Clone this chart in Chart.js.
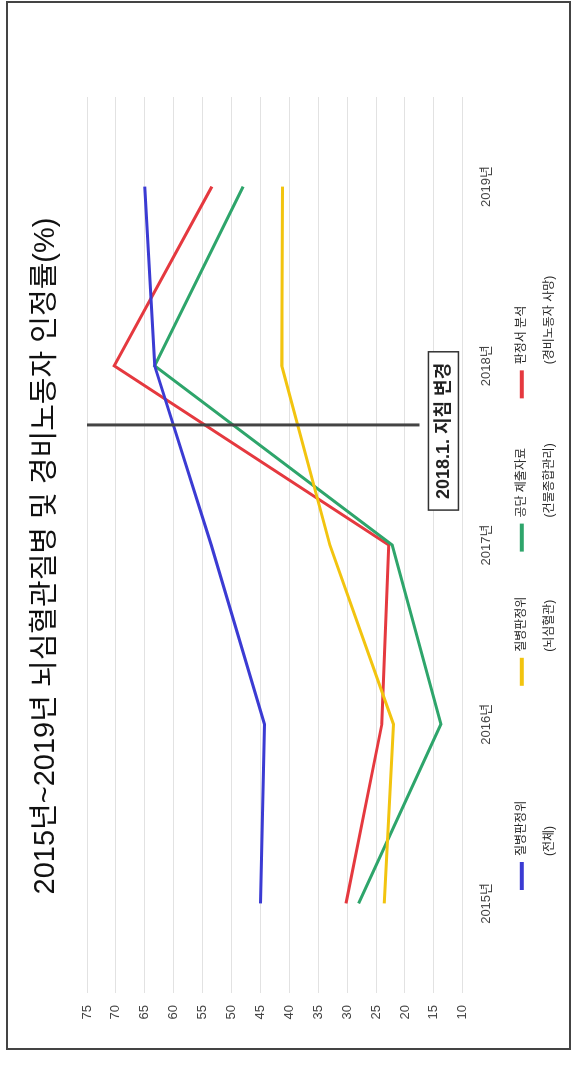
<!DOCTYPE html>
<html>
<head>
<meta charset="utf-8">
<script src="https://cdn.jsdelivr.net/npm/chart.js@4.4.1/dist/chart.umd.min.js"></script>
<style>
  html, body { margin: 0; padding: 0; background: #fff; }
  #frame { position: absolute; left: 6px; top: 1px; width: 561px; height: 1045px; border: 2px solid #444; }
  #wrap { position: absolute; left: 0; top: 0; width: 1046px; height: 571px;
          transform-origin: 0 0; transform: translate(0, 1079px) rotate(-90deg); }
</style>
</head>
<body>
<div id="frame"></div>
<div id="wrap"><canvas id="rateChart" width="1046" height="571"></canvas></div>
<script>
const years = ['2015년', '2016년', '2017년', '2018년', '2019년'];
const seriesNames = [
  ['질병판정위', '(전체)'],
  ['질병판정위', '(뇌심혈관)'],
  ['공단 제출자료', '(건물종합관리)'],
  ['판정서 분석', '(경비노동자 사망)']
];
const allCases = [45, 44.3, 53.5, 63.3, 65];        // 질병판정위 (전체)
const cardioCases = [23.6, 22, 33, 41.3, 41.2];     // 질병판정위 (뇌심혈관)
const agencyData = [28, 13.8, 22.2, 63.3, 48];      // 공단 제출자료 (건물종합관리)
const rulingData = [30.2, 24, 22.8, 70.3, 53.4];    // 판정서 분석 (경비노동자 사망)
const yMin = 10, yMax = 75, yStep = 5;

// 2018.1 guideline change, placed between 2017 and 2018
const guideChange = { text: '2018.1. 지침 변경', at: 2.67, top: 75, bottom: 17.5 };

const FONT = "'Liberation Sans', 'Noto Sans CJK KR', sans-serif";

const guidePlugin = {
  id: 'guide',
  afterDatasetsDraw(chart) {
    const { ctx, scales: { x, y } } = chart;
    const px = x.getPixelForValue(guideChange.at);
    const y1 = y.getPixelForValue(guideChange.top);
    const y2 = y.getPixelForValue(guideChange.bottom);
    ctx.save();
    ctx.strokeStyle = '#444';
    ctx.lineWidth = 3;
    ctx.beginPath();
    ctx.moveTo(px, y1);
    ctx.lineTo(px, y2);
    ctx.stroke();

    ctx.font = "bold 18px " + FONT;
    const w = ctx.measureText(guideChange.text).width + 22;
    const h = 30;
    const by = y2 + 9;
    const bx = px - w / 2 - 6;
    ctx.fillStyle = '#fff';
    ctx.fillRect(bx, by, w, h);
    ctx.strokeStyle = '#333';
    ctx.lineWidth = 1.5;
    ctx.strokeRect(bx, by, w, h);
    ctx.fillStyle = '#222';
    ctx.textAlign = 'center';
    ctx.textBaseline = 'middle';
    ctx.fillText(guideChange.text, bx + w / 2, by + h / 2 + 1);
    ctx.restore();
  }
};

// legend with two text lines per item, under the axis labels
const legendGaps = [115, 45, 45];
const legendPlugin = {
  id: 'twoLineLegend',
  afterDraw(chart) {
    const { ctx, chartArea } = chart;
    ctx.save();
    ctx.font = '12px ' + FONT;
    ctx.textAlign = 'left';
    ctx.textBaseline = 'middle';
    const line1 = chartArea.bottom + 59;
    const line2 = chartArea.bottom + 87;
    let x = chartArea.left + 103;
    chart.data.datasets.forEach((ds, i) => {
      const lines = seriesNames[i];
      ctx.strokeStyle = ds.borderColor;
      ctx.lineWidth = 4;
      ctx.beginPath();
      ctx.moveTo(x, line1);
      ctx.lineTo(x + 28, line1);
      ctx.stroke();
      ctx.fillStyle = '#222';
      ctx.fillText(lines[0], x + 34, line1);
      ctx.fillText(lines[1], x + 34, line2);
      const tw = Math.max(ctx.measureText(lines[0]).width, ctx.measureText(lines[1]).width);
      x += 34 + tw + (legendGaps[i] || 0);
    });
    ctx.restore();
  }
};

const graph = document.getElementById('rateChart');

new Chart(graph, {
  type: 'line',
  data: {
    labels: years,
    datasets: [
      { label: seriesNames[0].join(' '), data: allCases, borderColor: '#3b3bd3' },
      { label: seriesNames[1].join(' '), data: cardioCases, borderColor: '#f2c40f' },
      { label: seriesNames[2].join(' '), data: agencyData, borderColor: '#2ea56b' },
      { label: seriesNames[3].join(' '), data: rulingData, borderColor: '#e5393f' }
    ]
  },
  options: {
    responsive: false,
    animation: false,
    elements: {
      line: { borderWidth: 3, tension: 0 },
      point: { radius: 0 }
    },
    layout: { padding: { right: 0, bottom: 60.6 } },
    scales: {
      x: {
        offset: true,
        grid: { display: false, drawTicks: false },
        border: { display: false },
        ticks: { color: '#444', padding: 16, font: { family: FONT, size: 13 } }
      },
      y: {
        min: yMin,
        max: yMax,
        grid: { color: '#e2e2e2', drawTicks: false },
        border: { display: false },
        ticks: { stepSize: yStep, color: '#444', padding: 12, font: { family: FONT, size: 13 } },
        afterFit(scale) { scale.width = 86; }
      },
      spacer: {
        position: 'right',
        grid: { display: false, drawTicks: false },
        border: { display: false },
        ticks: { display: false },
        afterFit(scale) { scale.width = 64; }
      }
    },
    plugins: {
      title: {
        display: true,
        text: '2015년~2019년 뇌심혈관질병 및 경비노동자 인정률(%)',
        color: '#111',
        font: { family: FONT, size: 29, weight: 'normal' },
        padding: { top: 29, bottom: 23.2 }
      },
      legend: { display: false },
      tooltip: { enabled: false }
    }
  },
  plugins: [guidePlugin, legendPlugin]
});
</script>
</body>
</html>
